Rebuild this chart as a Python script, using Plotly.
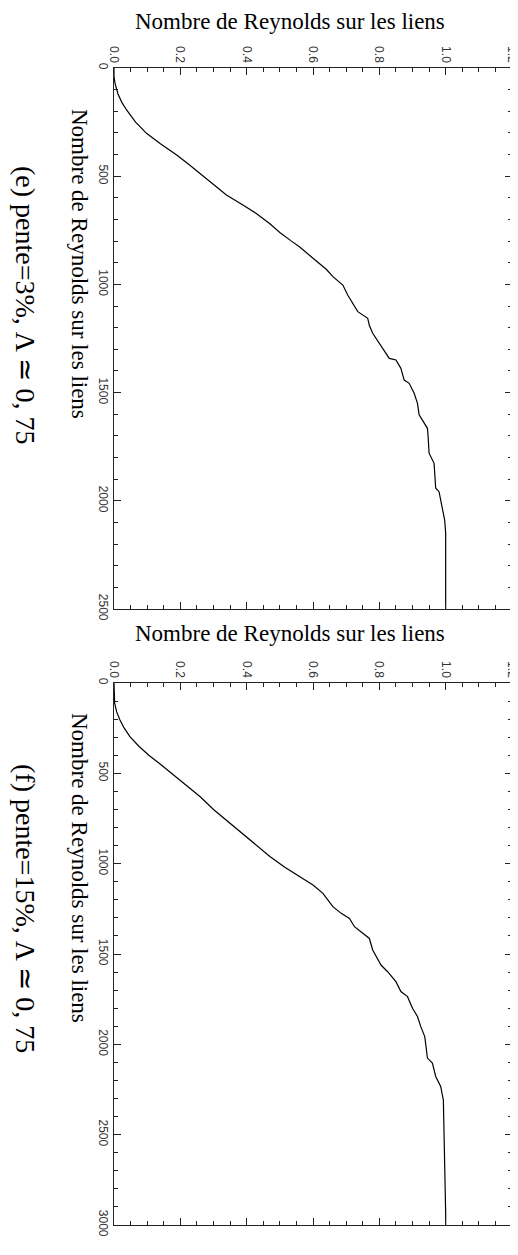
import plotly.graph_objects as go

# (e) pente = 3%
re_e = [0, 40, 70, 120, 160, 194, 250, 302, 350, 402, 445, 487, 540, 587, 630, 672,
        720, 760, 800, 826, 879, 930, 964, 1003, 1050, 1087, 1126, 1157, 1190, 1226,
        1272, 1310, 1342, 1349, 1388, 1442, 1457, 1503, 1550, 1603, 1665, 1700, 1780,
        1827, 1942, 1958, 2043, 2089, 2150, 2500]
frac_e = [0, 0.0, 0.003, 0.012, 0.024, 0.038, 0.065, 0.098, 0.14, 0.189, 0.225, 0.259,
          0.3, 0.339, 0.385, 0.429, 0.47, 0.5, 0.535, 0.559, 0.6, 0.64, 0.66, 0.69,
          0.705, 0.72, 0.735, 0.765, 0.77, 0.78, 0.8, 0.815, 0.83, 0.85, 0.865, 0.875,
          0.89, 0.905, 0.915, 0.92, 0.945, 0.947, 0.95, 0.965, 0.97, 0.98, 0.99, 0.997,
          1.0, 1.0]

# (f) pente = 15%
re_f = [0, 60, 112, 160, 205, 250, 297, 350, 400, 450, 510, 570, 630, 700, 770, 840,
        900, 960, 1020, 1072, 1118, 1164, 1238, 1275, 1303, 1349, 1386, 1414, 1478,
        1561, 1598, 1653, 1708, 1736, 1800, 1846, 1902, 1957, 2076, 2104, 2178, 2233,
        2308, 2603, 2933, 3000]
frac_f = [0, 0.0, 0.002, 0.008, 0.018, 0.031, 0.048, 0.075, 0.105, 0.14, 0.18, 0.22,
          0.26, 0.3, 0.345, 0.39, 0.43, 0.47, 0.515, 0.559, 0.6, 0.63, 0.66, 0.685,
          0.71, 0.725, 0.75, 0.77, 0.78, 0.805, 0.825, 0.85, 0.865, 0.885, 0.9, 0.915,
          0.925, 0.937, 0.945, 0.96, 0.97, 0.985, 0.993, 0.997, 1.0, 1.0]

axis_title = "Nombre de Reynolds sur les liens"
captions = ["(e) pente=3%, Λ ≃ 0, 75", "(f) pente=15%, Λ ≃ 0, 75"]

# the page body has an 8px margin, so the figure is drawn 8px smaller and offset
OFF = 8
W, H = 518 - OFF, 1255 - OFF
serif = "Liberation Serif"
sans = "Liberation Sans"


def fx(x):
    return (x - OFF) / W


def fy(y):
    return 1 - (y - OFF) / H


fig = go.Figure()
fig.add_trace(go.Scatter(x=frac_e, y=re_e, mode="lines", xaxis="x", yaxis="y",
                         line=dict(color="black", width=1.2), showlegend=False))
fig.add_trace(go.Scatter(x=frac_f, y=re_f, mode="lines", xaxis="x2", yaxis="y2",
                         line=dict(color="black", width=1.2), showlegend=False))

xdom = [fx(114), fx(512)]
dom_top = [fy(609), fy(68)]
dom_bot = [fy(1225), fy(683)]


def xax(anchor):
    return dict(domain=xdom, anchor=anchor, side="top", range=[0, 1.2], dtick=0.2,
                tickformat=".1f", tickangle=90, ticks="inside", ticklen=7,
                tickcolor="#222", linecolor="#222", linewidth=1, mirror="allticks",
                showgrid=False, zeroline=False, automargin=False,
                ticklabeloverflow="allow",
                tickfont=dict(family=sans, size=12, color="#333"),
                minor=dict(dtick=0.05, ticks="inside", ticklen=4, tickcolor="#222",
                           showgrid=False))


def yax(anchor, dom, top):
    return dict(domain=dom, anchor=anchor, range=[top, 0], dtick=500, tickangle=90,
                ticks="inside", ticklen=7, tickcolor="#222", linecolor="#222",
                linewidth=1, mirror="allticks", showgrid=False, zeroline=False,
                automargin=False, ticklabeloverflow="allow",
                tickfont=dict(family=sans, size=12, color="#333"),
                minor=dict(dtick=100, ticks="inside", ticklen=4, tickcolor="#222",
                           showgrid=False))


fig.update_layout(
    template="none",
    width=W, height=H, margin=dict(l=0, r=0, t=0, b=0),
    paper_bgcolor="white", plot_bgcolor="white",
    xaxis=xax("y"), yaxis=yax("x", dom_top, 2500),
    xaxis2=xax("y2"), yaxis2=yax("x2", dom_bot, 3000),
)

annots = []
for ty, vy, cy, cap in [(21, 264, 305, captions[0]), (633, 868, 908, captions[1])]:
    annots.append(dict(x=fx(290), y=fy(ty), xref="paper", yref="paper", text=axis_title,
                       xanchor="center", yanchor="middle", showarrow=False,
                       font=dict(family=serif, size=23, color="black")))
    annots.append(dict(x=fx(80), y=fy(vy), xref="paper", yref="paper", text=axis_title,
                       textangle=90, xanchor="center", yanchor="middle", showarrow=False,
                       font=dict(family=serif, size=23, color="black")))
    annots.append(dict(x=fx(26), y=fy(cy), xref="paper", yref="paper", text=cap,
                       textangle=90, xanchor="center", yanchor="middle", showarrow=False,
                       font=dict(family=serif, size=28, color="black")))
fig.update_layout(annotations=annots)

fig.write_html("out.html")
